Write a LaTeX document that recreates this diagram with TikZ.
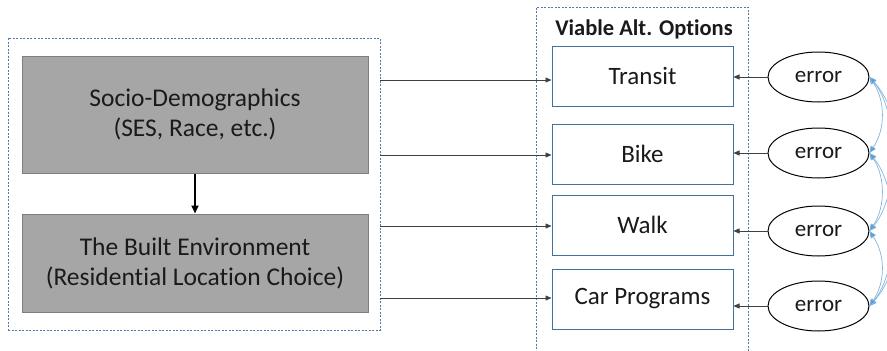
\documentclass[tikz,border=0pt]{standalone}
\usepackage{fontspec}
\setmainfont{Carlito}[Ligatures=CommonOff]
\usetikzlibrary{arrows.meta,shapes.geometric}
\definecolor{grpblue}{HTML}{4F7BA8}
\definecolor{boxblue}{HTML}{41719C}
\definecolor{boxgray}{HTML}{A6A6A6}
\definecolor{edgegray}{HTML}{7F7F7F}
\definecolor{corrblue}{HTML}{5B9BD5}
\definecolor{txt}{HTML}{1A1A1A}
\tikzset{
  grp/.style={draw=grpblue, dashed, dash pattern=on 2pt off 1.5pt, line width=0.8pt, inner sep=0pt},
  factor/.style={draw=edgegray, fill=boxgray, line width=1pt, inner sep=0pt, align=center,
    text=txt, font=\fontsize{25.5}{30}\selectfont, minimum width=346pt},
  option/.style={draw=boxblue, fill=white, line width=1pt, inner sep=0pt, text=txt,
    font=\fontsize{25}{28}\selectfont, minimum width=181pt, minimum height=60pt},
  err/.style={ellipse, draw=black, line width=1pt, inner sep=0pt, text=txt,
    font=\fontsize{23}{26}\selectfont, minimum width=101pt, minimum height=50pt},
  link/.style={draw=black!75, line width=0.7pt, -{Triangle[length=6pt,width=5pt]}},
  corr/.style={draw=corrblue!75, line width=0.7pt,
    {Triangle[length=7pt,width=6pt,fill=corrblue]}-{Triangle[length=7pt,width=6pt,fill=corrblue]}}
}
\begin{document}
\begin{tikzpicture}[x=1pt,y=-1pt]
\useasboundingbox (0,0) rectangle (887,351);
\clip (0,0) rectangle (887,351);

% left group: background factors
\node[grp, minimum width=372pt, minimum height=292pt] (lgrp) at (194,184) {};
\node[factor, minimum height=117pt] (socio) at (195,114.5) {Socio-Demographics\\(SES, Race, etc.)};
\node[factor, minimum height=98pt] (built) at (195,263) {The Built Environment\\(Residential Location Choice)};
\draw[line width=2pt, -{Triangle[length=8pt,width=7pt]}] (socio.south) -- (built.north);

% right group: mode options
\node[grp, minimum width=212pt, minimum height=370pt] (rgrp) at (642,192) {};
\node[font=\fontsize{22.5}{26}\selectfont\bfseries, text=txt] (title) at (644,29) {Viable Alt. Options};
\node[option] (transit) at (642.5,76) {Transit};
\node[option] (bike) at (642.5,154) {Bike};
\node[option] (walk) at (642.5,225) {Walk};
\node[option] (car) at (642.5,299) {Car Programs};

% error terms
\node[err] (e1) at (818.5,77) {error};
\node[err] (e2) at (818.5,153) {error};
\node[err] (e3) at (818.5,231) {error};
\node[err] (e4) at (818.5,306) {error};

% effects of the background factors on each option
\draw[link] (lgrp.east |- 0,80) -- (transit.west |- 0,80);
\draw[link] (lgrp.east |- 0,155) -- (bike.west |- 0,155);
\draw[link] (lgrp.east |- 0,226) -- (walk.west |- 0,226);
\draw[link] (lgrp.east |- 0,298) -- (car.west |- 0,298);

% error terms on each option
\draw[link] (e1.west) -- (e1.west -| transit.east);
\draw[link] (e2.west) -- (e2.west -| bike.east);
\draw[link] (e3.west) -- (e3.west -| walk.east);
\draw[link] (e4.west) -- (e4.west -| car.east);

% correlated errors
\draw[corr] (e1.east) .. controls +(16,24) and +(16,-24) .. (e2.east);
\draw[corr] (e1.east) .. controls +(30,36) and +(30,-36) .. (e3.east);
\draw[corr] (e1.east) .. controls +(44,48) and +(44,-48) .. (e4.east);
\draw[corr] (e2.east) .. controls +(16,24) and +(16,-24) .. (e3.east);
\draw[corr] (e2.east) .. controls +(30,36) and +(30,-36) .. (e4.east);
\draw[corr] (e3.east) .. controls +(16,24) and +(16,-24) .. (e4.east);
\end{tikzpicture}
\end{document}
